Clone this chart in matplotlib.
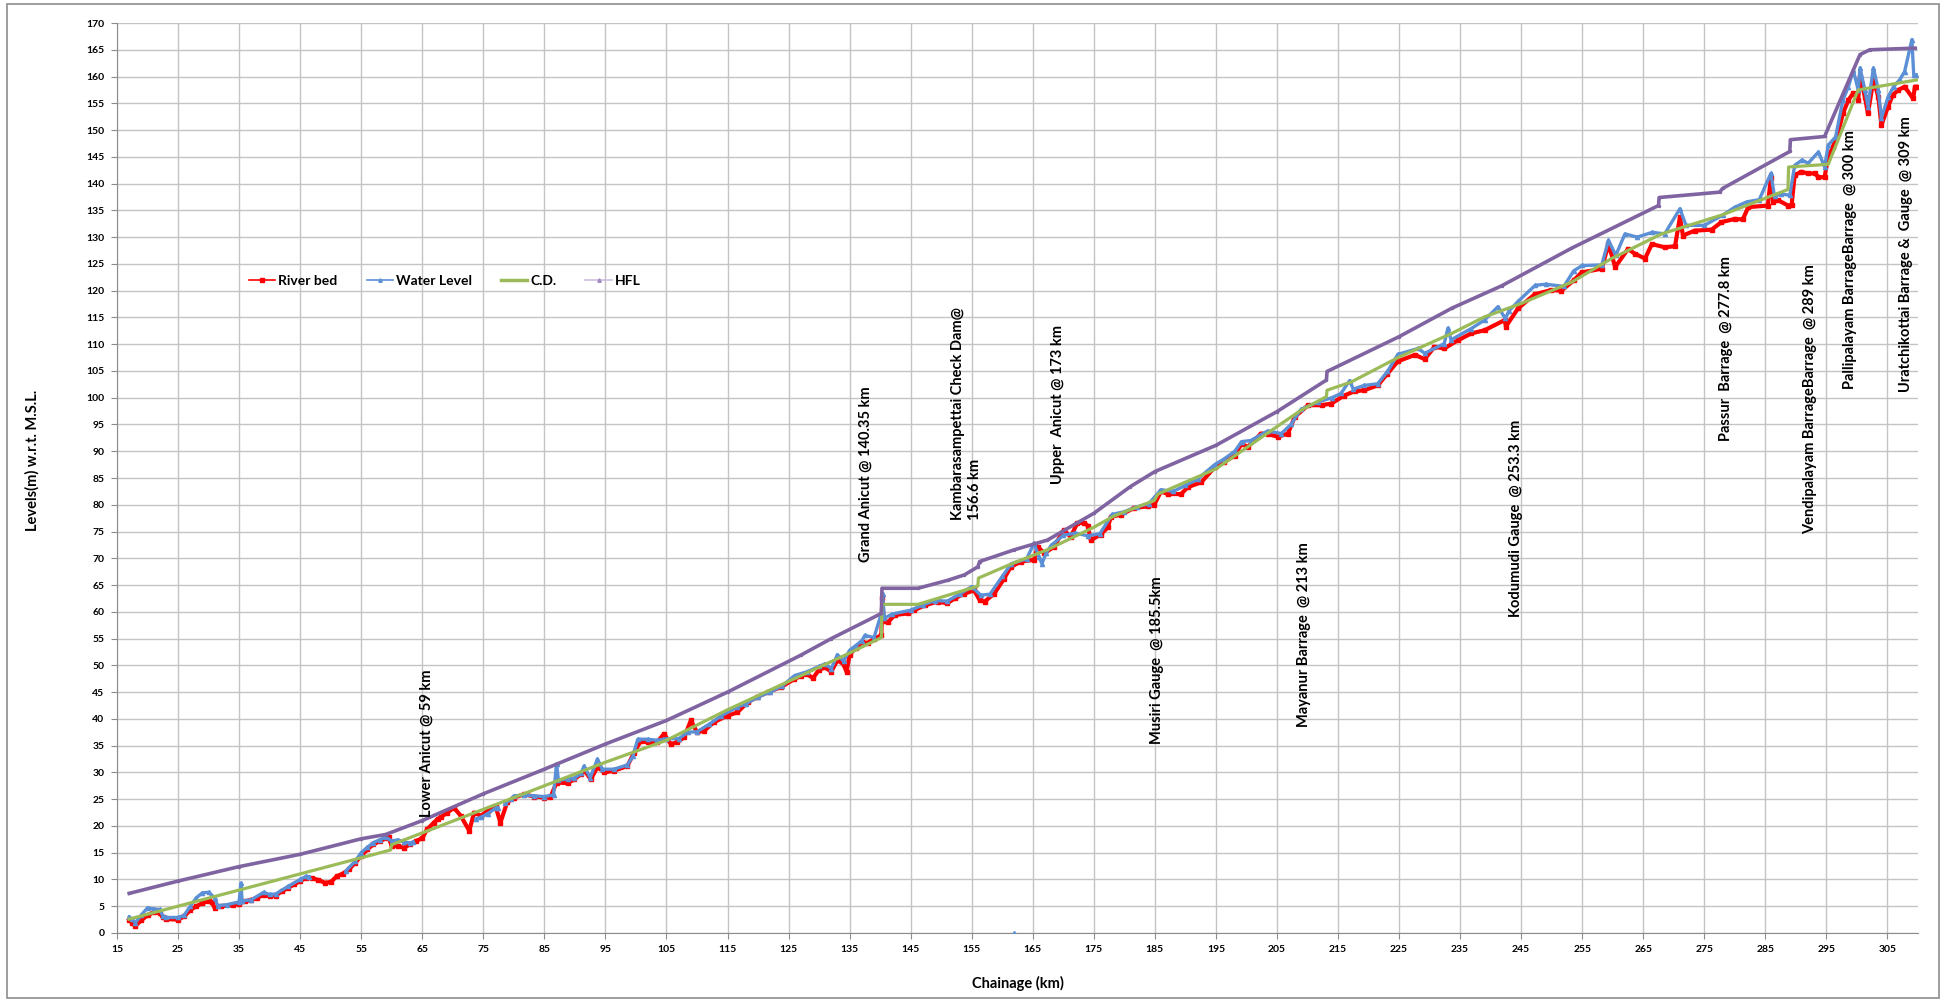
import matplotlib.pyplot as plt
import numpy as np
from matplotlib.lines import Line2D
from matplotlib.patches import Rectangle

plt.rcParams['font.family'] = ['Lato', 'DejaVu Sans']

nan = np.nan

# River bed level (m) along the chainage (km)
bed_km = [17.0, 17.5, 18.0, 19.0, 20.0, 21.0, 22.0, 22.5, 23.0, 25.0, 26.0, 27.0, 28.0, 29.0, 30.0,
          30.5, 31.0, 32.0, 34.0, 35.0, 36.0, 37.0, 38.0, 39.0, 40.0, 41.0, 42.0, 43.0, 44.0, 45.0,
          46.0, 47.0, 48.0, 49.0, 50.0, 51.0, 52.0, 53.0, 54.0, 55.0, 56.0, 57.0, 58.0, 59.0, 59.5,
          60.0, 61.0, 62.0, 63.0, 64.0, 65.0, 65.8, 66.9, 67.5, 68.0, 69.1, 70.2, 71.3, 72.7, 73.5,
          74.6, 75.7, 77.0, 77.8, 78.9, 80.0, 81.7, 83.3, 85.0, 86.0, 87.0, 88.8, 89.9, 91.0, 91.5,
          92.6, 93.7, 94.8, 96.4, 98.6, 99.7, 100.8, 101.9, 103.5, 104.6, 105.7, 106.8, 107.9, 109.0,
          110.0, 111.2, 112.8, 115.0, 116.6, 118.3, 119.9, 121.6, 123.7, 125.9, 127.0, 128.0, 129.0,
          130.0, 131.0, 132.0, 133.0, 134.0, 134.5, 135.0, 136.0, 137.0, 138.0, 139.0, 140.2, 140.35,
          140.6, 141.3, 142.4, 144.5, 145.6, 147.3, 149.4, 151.0, 152.2, 153.8, 155.4, 156.3, 157.1,
          158.7, 160.3, 161.4, 163.1, 165.2, 165.8, 166.9, 168.5, 170.1, 171.2, 172.3, 173.4, 174.0,
          174.5, 176.1, 177.3, 177.8, 179.4, 181.6, 183.8, 184.9, 186.0, 187.1, 189.3, 190.4, 192.6,
          194.8, 196.4, 198.1, 199.2, 200.2, 202.4, 203.5, 205.2, 206.8, 207.9, 210.1, 212.3, 213.9,
          216.0, 217.7, 219.3, 221.5, 223.1, 224.8, 227.6, 229.2, 230.8, 232.4, 234.6, 236.8, 239.0,
          242.3, 242.5, 244.5, 247.2, 249.9, 251.6, 253.6, 254.9, 258.2, 259.3, 260.4, 262.5, 263.6,
          265.3, 266.4, 268.5, 270.2, 271.0, 271.5, 273.4, 276.2, 277.8, 280.0, 281.3, 282.2, 285.4,
          285.9, 286.3, 287.1, 288.7, 289.3, 289.8, 290.9, 292.0, 293.1, 293.7, 294.7, 295.3, 296.1,
          296.9, 297.7, 298.6, 299.4, 300.2, 300.5, 301.3, 301.8, 302.7, 303.5, 304.0, 305.1, 305.9,
          306.8, 307.8, 309.2, 309.5, 309.8]
bed_lvl = [2.5, 1.8, 1.3, 2.4, 3.3, 3.9, 3.7, 2.9, 2.6, 2.5, 3.1, 4.3, 5.0, 5.6, 5.9,
           5.8, 4.7, 5.0, 5.2, 5.5, 5.9, 6.2, 6.6, 7.1, 6.9, 7.0, 7.8, 8.4, 9.1, 9.7,
           10.3, 10.2, 9.9, 9.4, 9.5, 10.6, 11.1, 11.9, 13.1, 14.4, 15.6, 16.6, 17.1, 17.7, 17.9,
           16.2, 16.3, 15.9, 16.6, 17.2, 17.7, 19.4, 20.6, 21.3, 21.6, 22.5, 23.4, 21.9, 19.1, 22.5,
           21.9, 22.8, 23.7, 20.6, 24.4, 25.3, 25.9, 25.5, 25.3, 25.4, 28.1, 28.0, 28.7, 29.7, 30.5,
           28.7, 31.0, 30.0, 30.3, 31.2, 33.7, 35.9, 35.6, 35.7, 37.2, 35.3, 35.6, 36.6, 39.7,
           37.5, 37.8, 39.4, 40.6, 41.2, 43.1, 44.1, 45.0, 45.9, 47.4, 48.0, 48.4, 47.6,
           49.2, 49.6, 48.8, 51.0, 50.2, 48.8, 52.0, 53.2, 54.3, 54.2, 55.0, 55.6, 62.5,
           58.2, 58.1, 59.4, 59.7, 60.3, 61.2, 61.9, 61.6, 62.5, 63.4, 64.0, 62.2, 61.9,
           63.4, 66.2, 68.4, 69.4, 69.7, 72.2, 70.9, 72.2, 75.3, 74.0, 76.6, 76.6, 76.1,
           73.4, 74.4, 75.8, 77.8, 78.1, 79.4, 79.7, 80.0, 82.5, 82.0, 82.0, 83.3, 84.2,
           87.0, 88.0, 89.2, 91.4, 90.8, 93.3, 93.2, 92.7, 93.3, 96.4, 98.6, 98.6, 98.9,
           100.4, 101.2, 101.4, 102.3, 104.5, 106.8, 108.0, 107.2, 109.5, 109.2, 110.7, 112.0, 112.6,
           114.5, 113.3, 116.7, 119.3, 120.1, 120.0, 121.9, 123.4, 124.1, 128.7, 124.4, 127.8, 126.9,
           126.0, 128.7, 128.1, 128.3, 133.7, 130.3, 131.2, 131.4, 132.8, 133.4, 133.3, 135.6, 135.9,
           141.0, 136.5, 136.9, 135.9, 136.0, 141.6, 142.2, 141.9, 141.9, 141.2, 141.2, 145.0, 146.9,
           149.4, 153.1, 155.6, 156.9, 155.6, 160.0, 156.2, 153.1, 159.4, 156.2, 150.9, 154.4, 156.6,
           157.5, 158.1, 155.9, 158.1, 158.1]

# Water level (m); nan marks stretches with no water reading
water_km = [17.0, 17.5, 18.0, 19.0, 20.0, 21.0, 22.0, 22.5, 23.0, 25.0, 26.0, 27.0, 28.0, 29.0, 30.0,
            31.0, 31.5, 33.0, 35.0, 35.3, 35.5, 37.0, 39.0, 40.0, 41.0, 43.0, 45.0, 46.0, 46.5, nan,
            52.5, 54.0, 55.0, 56.0, 57.0, 58.0, 59.0, 60.0, 61.0, 62.0, 63.0, 63.5, nan,
            73.8, 74.6, 75.7, 77.0, 77.4, nan, 78.6, 79.5, 80.0, 81.7, 83.3, 85.0, 86.5, 87.0, 87.3,
            88.8, 89.9, 91.0, 91.5, 92.5, 93.7, 94.5, 96.4, 98.6, 99.5, 100.3, 101.9, 103.5, 105.0,
            107.0, 108.5, 110.0, 112.0, 114.0, 116.6, 118.0, 120.0, 122.0, 124.0, 126.0, 128.0, 130.0,
            131.0, 132.0, 133.0, 134.0, 135.0, 136.0, 137.0, 137.5, 139.0, 140.2, 140.4, 140.7, 142.0,
            145.0, 147.0, 149.0, 151.0, 153.0, 155.0, 156.5, 158.0, 160.0, 161.5, 164.0, 165.2, 166.0,
            166.5, 167.2, 168.0, 170.0, 172.0, 174.0, 176.0, 178.0, 180.0, 182.0, 184.0, 186.0, 188.0,
            190.0, 192.0, 194.8, 196.4, 198.1, 199.2, 200.7, 203.5, 205.7, 207.3, 208.9, 211.7, 214.0,
            215.5, 216.9, 217.5, 219.3, 221.5, 223.1, 224.8, 228.1, 229.2, 232.4, 233.0, 233.5, 236.8,
            239.0, 241.2, 242.4, 243.0, 244.5, 247.3, 249.0, 252.0, 253.6, 255.0, 258.2, 259.3, 260.5,
            262.0, 264.0, 266.5, 268.5, 271.0, 272.0, 275.0, 278.0, 280.0, 282.0, 284.0, 285.9, 286.5,
            287.5, 289.0, 289.8, 291.0, 292.0, 293.7, 294.7, 295.3, 296.5, 297.7, 298.6, 299.4, 300.2,
            300.5, 301.3, 301.8, 302.7, 303.5, 304.0, 305.1, 306.0, 307.0, 307.8, 309.0, 309.3, 309.7,
            nan, 162.0]
water_lvl = [3.0, 2.6, 1.9, 3.4, 4.7, 4.5, 4.4, 3.2, 2.9, 2.9, 3.3, 5.0, 6.6, 7.5, 7.6,
             6.6, 5.1, 5.3, 5.8, 9.3, 6.0, 6.2, 7.6, 7.2, 7.3, 8.7, 10.0, 10.6, 10.5, nan,
             11.6, 13.4, 15.0, 16.0, 16.9, 17.4, 17.9, 17.2, 17.4, 17.0, 16.8, 17.0, nan,
             21.3, 21.6, 22.3, 23.3, 23.4, nan, 24.2, 25.0, 25.6, 25.8, 25.6, 25.5, 25.8, 31.6, 28.5,
             28.8, 28.9, 29.8, 31.2, 29.0, 32.5, 30.6, 30.6, 31.4, 33.0, 36.2, 36.2, 36.0, 36.3,
             36.3, 37.5, 37.6, 39.0, 40.6, 42.2, 42.8, 44.1, 45.0, 46.2, 48.1, 48.8, 49.8,
             50.3, 49.4, 52.0, 50.8, 52.8, 53.7, 54.6, 55.6, 55.2, 59.7, 63.4, 58.8, 59.6,
             60.3, 61.3, 62.1, 62.0, 63.3, 64.7, 63.1, 63.3, 66.6, 69.0, 69.9, 72.8, 70.3,
             69.0, 71.0, 72.4, 74.3, 74.7, 74.2, 74.6, 78.2, 78.7, 79.6, 80.2, 82.8, 82.5,
             83.6, 84.8, 87.5, 88.6, 90.0, 91.8, 92.0, 93.8, 93.3, 95.0, 97.8, 99.2, 100.0,
             100.8, 103.2, 101.6, 102.3, 102.6, 104.9, 108.1, 109.2, 108.3, 110.1, 113.0, 110.8, 112.9,
             114.5, 117.0, 114.8, 116.2, 118.0, 121.0, 121.2, 120.8, 123.7, 124.7, 124.8, 129.4, 126.6,
             130.6, 130.0, 130.9, 130.6, 135.3, 132.2, 132.2, 134.1, 135.6, 136.6, 137.0, 141.9, 137.6,
             138.1, 137.8, 143.4, 144.4, 143.8, 145.9, 143.1, 147.2, 148.7, 155.6, 158.1, 161.2, 157.5,
             161.6, 157.5, 154.4, 161.6, 157.5, 152.2, 156.2, 158.1, 159.4, 160.9, 166.9, 160.3, 160.3,
             nan, 0.0]

# C.D. level (m)
cd_km = [17.0, 59.8, 60.0, 65.0, 75.0, 85.0, 95.0, 105.0, 115.0, 125.0, 135.0, 140.2, 140.3, 146.2,
         156.0, 156.1, 162.0, 167.4, 175.0, 178.3, 184.9, 185.5, 195.0, 205.0, 209.0, 213.1, 213.2,
         217.1, 225.0, 233.6, 239.0, 245.0, 253.3, 259.8, 268.0, 277.8, 288.7, 288.8, 295.3, 300.2,
         310.0]
cd_lvl = [2.6, 15.5, 16.5, 18.7, 23.1, 27.5, 31.9, 36.0, 41.7, 47.0, 52.3, 55.2, 61.4, 61.4,
          64.8, 66.3, 69.2, 71.6, 75.8, 77.9, 80.8, 82.0, 86.7, 94.6, 97.7, 100.2, 101.4,
          102.9, 107.6, 112.0, 115.1, 117.6, 121.6, 126.0, 130.6, 134.1, 138.9, 143.1, 143.6, 157.5,
          159.4]

# Highest flood level (m)
hfl_km = [17.0, 25.0, 35.0, 45.0, 55.0, 59.0, 65.0, 75.0, 85.0, 95.0, 105.0, 115.0, 127.0, 132.0,
          140.2, 140.3, 146.2, 151.1, 153.8, 156.0, 156.3, 162.0, 167.4, 172.4, 175.0, 181.0, 185.0,
          195.0, 205.0, 213.1, 213.2, 225.0, 233.6, 241.8, 253.2, 267.5, 267.6, 277.5, 278.0, 289.0,
          289.1, 294.7, 300.5, 302.1, 309.5]
hfl_lvl = [7.4, 9.7, 12.4, 14.7, 17.6, 18.4, 21.0, 26.0, 30.6, 35.3, 39.7, 45.0, 51.9, 55.0,
           59.7, 64.4, 64.4, 65.9, 66.9, 68.4, 69.4, 71.6, 73.4, 76.7, 78.4, 83.4, 86.2,
           91.1, 97.4, 103.3, 104.9, 111.4, 116.7, 120.9, 127.9, 135.9, 137.4, 138.4, 139.1, 146.0,
           148.2, 148.8, 164.1, 165.0, 165.3]

# Structures along the river: label, chainage of label, level where label starts
site_text = ['Lower Anicut @ 59 km', 'Grand Anicut @ 140.35 km',
             'Kambarasampettai Check Dam@\n156.6 km', 'Upper  Anicut @ 173 km',
             'Musiri Gauge  @ 185.5km', 'Mayanur Barrage  @ 213 km', 'Kodumudi Gauge  @ 253.3 km',
             'Passur  Barrage  @ 277.8 km', 'Vendipalayam BarrageBarrage  @ 289 km',
             'Pallipalayam BarrageBarrage  @ 300 km', 'Uratchikottai Barrage &  Gauge  @ 309 km']
site_x = [65.8, 137.7, 154.2, 169.1, 185.4, 209.4, 244.1, 278.6, 292.3, 298.8, 308.1]
site_y = [21.6, 69.4, 77.2, 83.8, 35.3, 38.4, 59.1, 92.0, 74.6, 101.7, 101.0]

RED = '#FF0000'
BLUE = '#5B8FD6'
GREEN = '#9BBB59'
PURPLE = '#8064A2'

fig = plt.figure(figsize=(19.43, 10.01), dpi=100)
fig.patches.append(Rectangle((7 / 1943, 3 / 1001), 1932 / 1943, 994 / 1001, transform=fig.transFigure,
                             fill=False, edgecolor='#8c8c8c', linewidth=1.2))
ax = fig.add_axes([117 / 1943, 68 / 1001, 1801 / 1943, 910 / 1001])

ax.plot(bed_km, bed_lvl, color=RED, lw=3.0, marker='s', ms=3.2, mec=RED, zorder=3)
ax.plot(water_km, water_lvl, color=BLUE, lw=2.4, marker='^', ms=3, mec=BLUE, zorder=4)
ax.plot(cd_km, cd_lvl, color=GREEN, lw=2.3, zorder=5)
ax.plot(hfl_km, hfl_lvl, color=PURPLE, lw=2.6, marker='o', ms=1.5, zorder=6)

for txt, x, y in zip(site_text, site_x, site_y):
    ax.text(x, y, txt, rotation=90, ha='center', va='bottom', ma='left',
            fontsize=10.5, fontweight='bold', color='black', zorder=7, linespacing=1.25)

ax.set_xlim(15, 310)
ax.set_ylim(0, 170)
ax.set_xticks(np.arange(15, 306, 10))
ax.set_yticks(np.arange(0, 171, 5))
ax.grid(True, color='#c4c4c4', lw=1.0)
ax.set_axisbelow(True)
for side in ('top', 'right'):
    ax.spines[side].set_visible(False)
for side in ('left', 'bottom'):
    ax.spines[side].set_color('#8c8c8c')
ax.tick_params(labelsize=7.5, length=4, color='#8c8c8c', pad=5)
for lab in ax.get_xticklabels() + ax.get_yticklabels():
    lab.set_fontweight('bold')

ax.set_xlabel('Chainage (km)', fontsize=10.5, fontweight='bold')
ax.xaxis.set_label_coords(0.5, -0.047)
ax.set_ylabel('Levels(m) w.r.t. M.S.L.', fontsize=10.5, fontweight='bold')
ax.yaxis.set_label_coords(-0.043, 0.519)

handles = [
    Line2D([], [], color=RED, lw=1.2, marker='s', ms=2.5),
    Line2D([], [], color=BLUE, lw=1.2, marker='^', ms=2.5),
    Line2D([], [], color=GREEN, lw=2.5),
    Line2D([], [], color='#CDBFE0', lw=1.2, marker='^', ms=2.5, mfc='#9F8BBF', mec='#9F8BBF'),
]
ax.legend(handles, ['River bed', 'Water Level', 'C.D.', 'HFL'], loc='center left',
          bbox_to_anchor=(0.0733, 0.717), ncol=4, frameon=False, borderpad=0, borderaxespad=0,
          handlelength=1.9, handletextpad=0.2, columnspacing=2.1,
          prop={'size': 10, 'weight': 'bold'})

fig.savefig('out.png', dpi=100)
